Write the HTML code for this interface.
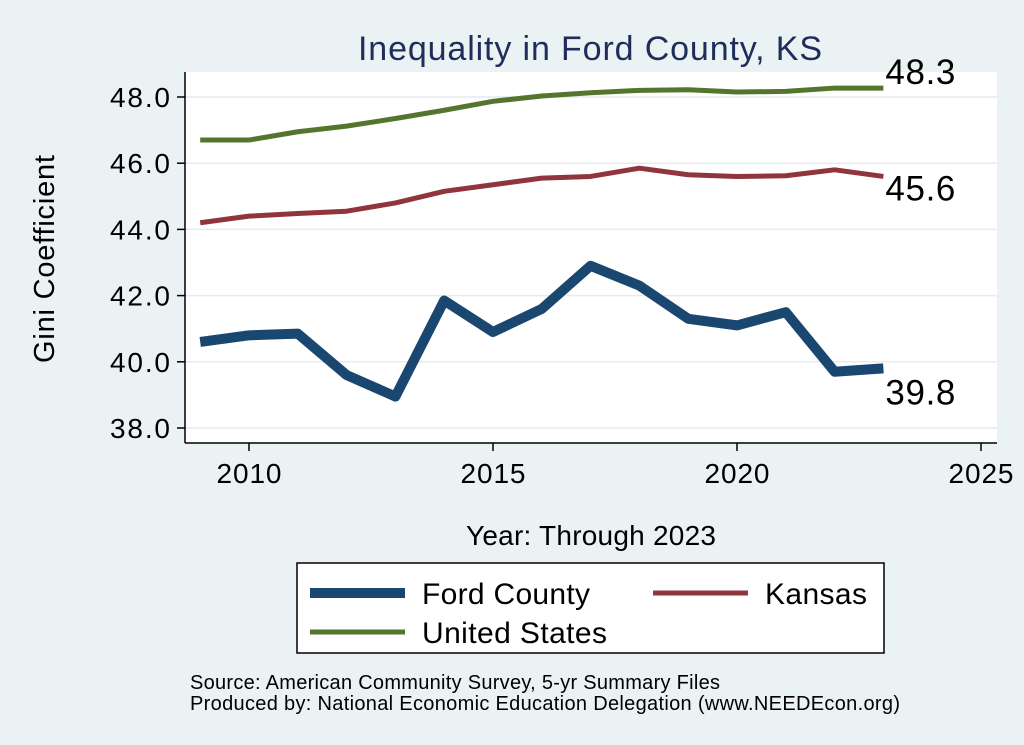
<!DOCTYPE html>
<html><head><meta charset="utf-8"><style>
body{margin:0;background:#eaf2f3;font-family:"Liberation Sans",sans-serif}
svg{display:block}
</style></head><body>
<svg width="1024" height="745" id="chart">
<rect x="0" y="0" width="1024" height="745" fill="#eaf2f3"/>
<rect x="185" y="72" width="812" height="371" fill="#ffffff"/>
<text x="590" y="60" text-anchor="middle" font-size="34" fill="#1e2d5a" textLength="464">Inequality in Ford County, KS</text>
<text transform="translate(54,259) rotate(-90)" text-anchor="middle" font-size="29" fill="#000" textLength="208">Gini Coefficient</text>
<text x="591" y="545" text-anchor="middle" font-size="28" fill="#000" textLength="250">Year: Through 2023</text>
<g id="grid"></g><g id="axes"></g><g id="series"></g>
<rect x="297" y="563" width="587" height="90" fill="#fff" stroke="#000" stroke-width="1.5"/>
<line x1="310" y1="593" x2="405" y2="593" stroke="#1a476f" stroke-width="10"/>
<text x="422" y="604" font-size="30" textLength="168">Ford County</text>
<line x1="653" y1="593" x2="748" y2="593" stroke="#90353b" stroke-width="5"/>
<text x="765" y="604" font-size="30" textLength="102">Kansas</text>
<line x1="310" y1="632" x2="405" y2="632" stroke="#55752f" stroke-width="5"/>
<text x="422" y="643" font-size="30" textLength="185">United States</text>
<text x="190" y="689" font-size="20" textLength="530">Source: American Community Survey, 5-yr Summary Files</text>
<text x="190" y="710" font-size="20" textLength="710">Produced by: National Economic Education Delegation (www.NEEDEcon.org)</text>
</svg>
<script>
const years=[2009,2010,2011,2012,2013,2014,2015,2016,2017,2018,2019,2020,2021,2022,2023];
const ford=[40.6,40.8,40.85,39.6,38.95,41.85,40.9,41.6,42.9,42.3,41.3,41.1,41.5,39.7,39.8];
const kansas=[44.2,44.4,44.48,44.55,44.8,45.15,45.35,45.55,45.6,45.85,45.65,45.6,45.62,45.8,45.6];
const us=[46.7,46.7,46.95,47.12,47.35,47.6,47.87,48.03,48.13,48.2,48.22,48.15,48.17,48.27,48.27];
const xTicks=[2010,2015,2020,2025];
const yTicks=[38,40,42,44,46,48];
const ns="http://www.w3.org/2000/svg";
const X=v=>249+(v-2010)*48.8;
const Y=v=>97+(48-v)*33.1;
function mk(t,a,p){const e=document.createElementNS(ns,t);for(const k in a)e.setAttribute(k,a[k]);p.appendChild(e);return e;}
const g=document.getElementById('grid'),ax=document.getElementById('axes'),s=document.getElementById('series');
yTicks.forEach(v=>{
 const l=mk('line',{x1:185,x2:997,y1:Y(v),y2:Y(v),stroke:'#e4ecee','stroke-width':1.5},g);
 
 
 const t=mk('line',{x1:177,x2:185,y1:Y(v),y2:Y(v),stroke:'#000','stroke-width':1.5},ax);
 
 
 const tx=mk('text',{x:170,y:Y(v)+10,'text-anchor':'end','font-size':28,textLength:60},ax);tx.textContent=v.toFixed(1);
 
 
});
xTicks.forEach(v=>{
 const t=mk('line',{x1:X(v),x2:X(v),y1:443,y2:451,stroke:'#000','stroke-width':1.5},ax);
 
 
 const tx=mk('text',{x:X(v),y:483,'text-anchor':'middle','font-size':28,textLength:65},ax);tx.textContent=v;
 
 
});
const la=mk('line',{x1:185,x2:185,y1:72,y2:443,stroke:'#000','stroke-width':1.5},ax);


const lb=mk('line',{x1:185,x2:997,y1:443,y2:443,stroke:'#000','stroke-width':1.5},ax);


function series(arr,col,w,name,dy){
 const p=mk('polyline',{points:arr.map((v,i)=>X(years[i])+','+Y(v)).join(' '),fill:'none',stroke:col,'stroke-width':w,'stroke-linejoin':'round'},s);
 
 
 const last=arr[arr.length-1];
 const t=mk('text',{x:X(years[years.length-1])+2,y:Y(last)+dy,'font-size':35,textLength:70},s);t.textContent=last.toFixed(1);
 
 
}
series(us,'#55752f',5,'us',-4);
series(kansas,'#90353b',5,'kansas',24);
series(ford,'#1a476f',10,'ford',36);
</script>
</body></html>
